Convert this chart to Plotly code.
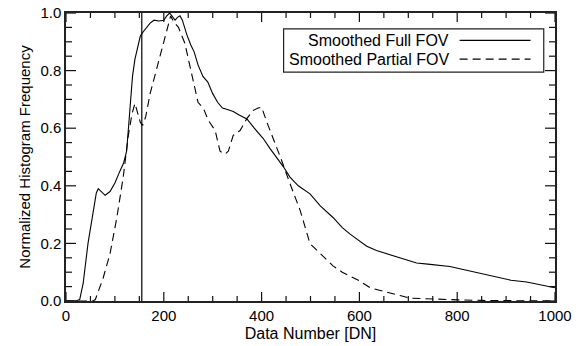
import plotly.graph_objects as go

x_full = [0, 20, 28, 35, 45, 55, 62, 66, 72, 80, 90, 100, 110, 118, 124, 130, 136, 141, 146, 152, 158, 165, 172, 180, 190, 200, 206, 212, 217, 223, 228, 233, 238, 247, 255, 262, 270, 280, 290, 300, 310, 320, 330, 342, 355, 370, 385, 403, 417, 430, 445, 458, 475, 499, 520, 546, 565, 581, 600, 615, 635, 656, 680, 700, 717, 740, 760, 785, 810, 840, 865, 884, 910, 942, 970, 1000]
y_full = [0, 0, 0.005, 0.06, 0.2, 0.31, 0.375, 0.39, 0.38, 0.367, 0.38, 0.41, 0.45, 0.48, 0.52, 0.65, 0.78, 0.84, 0.88, 0.92, 0.935, 0.95, 0.965, 0.975, 0.972, 0.975, 0.99, 1.0, 0.99, 0.975, 0.985, 0.99, 0.975, 0.925, 0.89, 0.865, 0.82, 0.78, 0.76, 0.72, 0.69, 0.67, 0.665, 0.658, 0.645, 0.632, 0.6, 0.565, 0.53, 0.5, 0.465, 0.43, 0.4, 0.372, 0.33, 0.29, 0.255, 0.232, 0.21, 0.19, 0.175, 0.164, 0.15, 0.14, 0.132, 0.128, 0.125, 0.12, 0.11, 0.098, 0.088, 0.08, 0.072, 0.066, 0.056, 0.046]

x_part = [0, 55, 60, 68, 76, 90, 104, 117, 127, 135, 141, 147, 152, 157, 163, 172, 186, 195, 202, 209, 214, 220, 230, 243, 254, 262, 270, 281, 291, 305, 315, 325, 332, 342, 356, 370, 383, 393, 400, 411, 424, 441, 458, 479, 499, 519, 546, 565, 581, 600, 622, 645, 669, 685, 703, 730, 760, 800, 850, 900, 950, 1000]
y_part = [0, 0, 0.005, 0.04, 0.08, 0.164, 0.29, 0.43, 0.57, 0.65, 0.686, 0.65, 0.62, 0.61, 0.64, 0.72, 0.81, 0.86, 0.906, 0.96, 0.99, 0.97, 0.95, 0.895, 0.81, 0.75, 0.69, 0.669, 0.627, 0.592, 0.52, 0.51, 0.52, 0.575, 0.592, 0.634, 0.662, 0.67, 0.673, 0.62, 0.564, 0.488, 0.408, 0.314, 0.199, 0.167, 0.122, 0.1, 0.085, 0.07, 0.046, 0.035, 0.024, 0.018, 0.01, 0.008, 0.005, 0.004, 0.002, 0.001, 0, 0]

vline_x = [155, 155]
vline_y = [0, 1]

x_major = [0, 200, 400, 600, 800, 1000]
x_minor = [50 * i for i in range(21)]
y_major = [0.0, 0.2, 0.4, 0.6, 0.8, 1.0]
y_minor = [round(0.05 * i, 2) for i in range(21)]
y_tick_format = ".1f"

legend_labels = ["Smoothed Full FOV", "Smoothed Partial FOV"]

FONT = "Liberation Sans"
DASH = "8px,5px"
W, H = 586, 346
ML, MR, MT, MB = 66, 31, 13, 45
PW, PH = W - ML - MR, H - MT - MB
XR, YR = [0, 1000], [0, 1.0]

fig = go.Figure()
fig.add_trace(go.Scatter(x=x_full, y=y_full, mode="lines",
                         line=dict(color="black", width=1.1), showlegend=False))
fig.add_trace(go.Scatter(x=x_part, y=y_part, mode="lines",
                         line=dict(color="black", width=1.1, dash=DASH), showlegend=False))
fig.add_trace(go.Scatter(x=vline_x, y=vline_y, mode="lines",
                         line=dict(color="black", width=1.2), showlegend=False))

# Inside tick marks on all four sides (IDL style), built on the axes' scales
xu = (XR[1] - XR[0]) / PW   # data units per pixel along x
yu = (YR[1] - YR[0]) / PH   # data units per pixel along y
tx, ty = [], []
for v in x_minor:
    L = 9 if v in x_major else 5
    tx += [v, v, None, v, v, None]
    ty += [YR[0], YR[0] + L * yu, None, YR[1], YR[1] - L * yu, None]
for v in y_minor:
    L = 10 if any(abs(v - m) < 1e-9 for m in y_major) else 6
    tx += [XR[0], XR[0] + L * xu, None, XR[1], XR[1] - L * xu, None]
    ty += [v, v, None, v, v, None]
fig.add_trace(go.Scatter(x=tx, y=ty, mode="lines", line=dict(color="#111", width=1.2),
                         showlegend=False, hoverinfo="skip", cliponaxis=False))

common = dict(showgrid=False, zeroline=False, showline=True, linecolor="#222",
              linewidth=1.5, mirror=True, ticks="", automargin=False,
              tickfont=dict(family=FONT, size=15, color="black"))
fig.update_layout(
    xaxis=dict(range=XR, tickmode="array", tickvals=x_major,
               title=dict(text="Data Number [DN]", font=dict(family=FONT, size=16, color="black"), standoff=5),
               **common),
    yaxis=dict(range=YR, tickmode="array", tickvals=y_major, tickformat=y_tick_format,
               title=dict(text="Normalized Histogram Frequency", font=dict(family=FONT, size=15, color="black"), standoff=6),
               **common),
)

# Legend box (IDL style: label then line sample)
lx0, lx1, ly0, ly1 = 0.445, 0.977, 0.795, 0.945
fig.add_shape(type="rect", xref="paper", yref="paper", x0=lx0, x1=lx1, y0=ly0, y1=ly1,
              line=dict(color="#222", width=1.2), fillcolor="white")
rows = [0.905, 0.84]
dashes = ["solid", DASH]
for lab, yy, dd in zip(legend_labels, rows, dashes):
    fig.add_annotation(xref="paper", yref="paper", x=0.787, y=yy, text=lab, showarrow=False,
                       xanchor="right", yanchor="middle",
                       font=dict(family=FONT, size=16, color="black"))
    fig.add_shape(type="line", xref="paper", yref="paper", x0=0.805, x1=0.95, y0=yy, y1=yy,
                  line=dict(color="black", width=1.2, dash=dd))

fig.update_layout(width=W, height=H, margin=dict(l=ML, r=MR, t=MT, b=MB),
                  plot_bgcolor="white", paper_bgcolor="white",
                  font=dict(family=FONT, color="black"))

fig.write_html("out.html")
